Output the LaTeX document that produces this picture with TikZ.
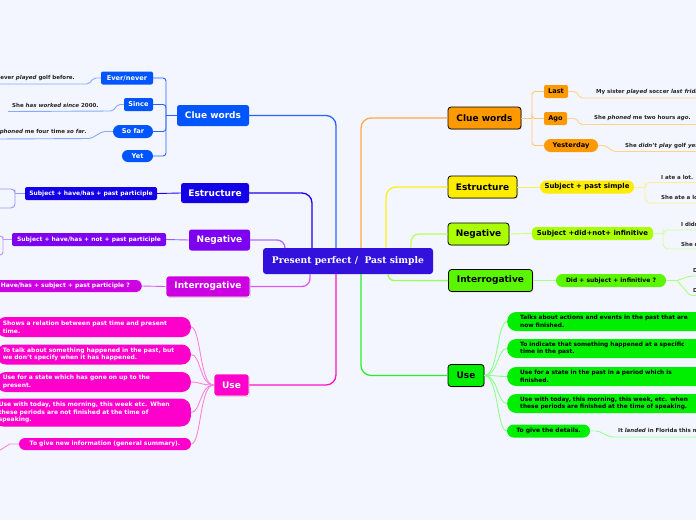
\documentclass[tikz,border=0pt]{standalone}
\usepackage{fontspec}
\setmainfont{DejaVu Sans}
\newfontfamily\serifb{DejaVu Serif}
\usetikzlibrary{shadows}
\definecolor{bg}{RGB}{243,246,254}
\definecolor{cen}{RGB}{51,17,221}
\definecolor{clueB}{RGB}{0,85,255}
\definecolor{estB}{RGB}{20,0,230}
\definecolor{negP}{RGB}{125,0,240}
\definecolor{intM}{RGB}{205,0,225}
\definecolor{useM}{RGB}{255,0,204}
\definecolor{orng}{RGB}{255,153,0}
\definecolor{yel}{RGB}{255,236,0}
\definecolor{ygr}{RGB}{170,255,0}
\definecolor{grn}{RGB}{90,245,0}
\definecolor{ugr}{RGB}{0,238,0}
\definecolor{lnClue}{RGB}{40,100,255}
\definecolor{lnEst}{RGB}{30,0,240}
\definecolor{lnNeg}{RGB}{175,110,255}
\definecolor{lnInt}{RGB}{220,90,240}
\definecolor{lnUse}{RGB}{255,20,200}
\definecolor{lnOr}{RGB}{255,170,70}
\definecolor{lnYe}{RGB}{255,240,20}
\definecolor{lnYg}{RGB}{190,255,90}
\definecolor{lnGr}{RGB}{150,255,90}
\definecolor{lnUg}{RGB}{40,240,40}
\tikzset{
 sz/.style 2 args={minimum width=#1pt,minimum height=#2pt},
 topL/.style={inner sep=0pt, rounded corners=2.5pt, text=white, font=\bfseries\fontsize{9}{10}\selectfont},
 topR/.style={inner sep=0pt, rounded corners=3pt, draw=black, line width=0.8pt, text=black, font=\bfseries\fontsize{9}{10}\selectfont, drop shadow={opacity=0.35,shadow xshift=0.8pt,shadow yshift=-0.8pt}},
 shadowW/.style={draw=white, line width=0.9pt, drop shadow={opacity=0.3,shadow xshift=0.8pt,shadow yshift=-0.8pt}},
 kidA/.style={inner sep=0pt, font=\bfseries\fontsize{6.6}{8}\selectfont},
 kidB/.style={inner sep=0pt, font=\bfseries\fontsize{6}{7}\selectfont},
 kidC/.style={inner sep=0pt, font=\bfseries\fontsize{6.9}{8}\selectfont},
 lpill/.style={font=\bfseries\fontsize{6}{7.6}\selectfont, fill=useM, text=white, align=left, inner xsep=6pt, inner ysep=1pt, rounded corners=9pt, anchor=east},
 rpill/.style={font=\bfseries\fontsize{5.85}{7.6}\selectfont, fill=ugr, text=black, align=left, inner xsep=13pt, inner ysep=1pt, rounded corners=9pt, anchor=west, text width=200pt, minimum height=19pt},
 ex/.style={inner sep=0pt, font=\bfseries\fontsize{5.5}{6.5}\selectfont, text=black!85},
 conn/.style={line width=1.3pt, rounded corners=10pt},
 sub/.style={line width=0.9pt},
}
\begin{document}
\begin{tikzpicture}[x=1pt,y=-1pt]
\useasboundingbox (0,0) rectangle (696,520);
\fill[bg] (0,0) rectangle (696,520);

% centre
\node[fill=cen, rounded corners=3pt, text=white, inner sep=0pt, sz={170}{26}, font=\serifb\bfseries\fontsize{9.2}{11}\selectfont] (c) at (348,261) {Present perfect /\ \ Past simple};

% ---------- left side ----------
\node[topL, fill=clueB, sz={72}{21}] (clueL) at (213,115.5) {Clue words};
\node[kidA, fill=clueB, text=white, rounded corners=2pt, sz={52}{13}] (ever) at (127,78) {Ever/never};
\node[kidA, fill=clueB, text=white, rounded corners=2pt, sz={29}{13}] (since) at (138.5,104.5) {Since};
\node[kidA, fill=clueB, text=white, rounded corners=6.5pt, sz={40}{13}] (sofar) at (133,131.5) {So far};
\node[kidA, fill=clueB, text=white, rounded corners=6pt, sz={31}{12}] (yet) at (137.5,156) {Yet};

\node[ex, anchor=east] (ex1) at (75,78) {never \textit{played} golf before.};
\node[ex, anchor=west] (ex2) at (12,105) {She \textit{has worked since} 2000.};
\node[ex, anchor=east] (ex3) at (87,132) {\textit{phoned} me four time \textit{so far}.};

\node[topL, fill=estB, sz={68}{20}] (estL) at (215,193) {Estructure};
\node[kidB, fill=estB, text=white, rounded corners=2pt, sz={132}{13}] (estC) at (91,193.5) {Subject + have/has + past participle};

\node[topL, fill=negP, sz={61}{21}] (negL) at (219.5,240) {Negative};
\node[kidB, fill=negP, text=white, rounded corners=2pt, sz={154}{13}] (negC) at (89,239.5) {Subject + have/has + not + past participle};

\node[topL, shadowW, fill=intM, sz={84}{21}] (intL) at (208,286.5) {Interrogative};
\node[kidB, fill=intM, text=white, anchor=east, inner xsep=12pt, minimum height=12pt, rounded corners=6pt] (intC) at (142,286) {Have/has + subject + past participle ?};

\node[topL, shadowW, fill=useM, sz={35}{22}] (useL) at (231.5,385) {Use};
\node[lpill, text width=182pt, minimum height=20pt] (p1) at (191,327) {Shows a relation between past time and present\\time.};
\node[lpill, text width=182pt, minimum height=20pt] (p2) at (191,354.5) {To talk about something happened in the past, but\\we don't specify when it has happened.};
\node[lpill, text width=182pt, minimum height=20pt] (p3) at (191,382) {Use for a state which has gone on up to the\\present.};
\node[lpill, text width=186pt, minimum height=28pt, rounded corners=10pt] (p4) at (191,412.5) {Use with today, this morning, this week etc. When\\these periods are not finished at the time of\\speaking.};
\node[kidB, fill=useM, text=white, rounded corners=6pt, sz={172}{12}] (p5) at (105,444) {To give new information (general summary).};

% ---------- right side ----------
\node[topR, fill=orng, sz={73}{22}] (clueR) at (484.5,118) {Clue words};
\node[kidA, fill=orng, rounded corners=2pt, sz={24}{13}] (last) at (556,91.5) {Last};
\node[kidA, fill=orng, rounded corners=2pt, sz={23}{13}] (ago) at (555.5,118.5) {Ago};
\node[kidA, fill=orng, rounded corners=6.5pt, sz={54}{13}] (yest) at (571,145.5) {Yesterday};
\node[ex, anchor=west] (ex4) at (596,92) {My sister \textit{played} soccer \textit{last friday}.};
\node[ex, anchor=west] (ex5) at (594,118) {She \textit{phoned} me two hours \textit{ago}.};
\node[ex, anchor=west] (ex6) at (625,145.5) {She \textit{didn't play} golf \textit{yesterday}.};

\node[topR, fill=yel, sz={69}{22}] (estR) at (482.5,187) {Estructure};
\node[kidC, fill=yel, rounded corners=6.5pt, sz={94}{13}] (sps) at (587,187) {Subject + past simple};
\node[ex, anchor=west] (ex7) at (661,177) {I ate a lot.};
\node[ex, anchor=west] (ex8) at (661,197) {She ate a lot.};

\node[topR, fill=ygr, sz={61}{22}] (negR) at (478.5,234) {Negative};
\node[kidC, fill=ygr, rounded corners=4pt, sz={121}{13}] (sdn) at (592.5,233.5) {Subject +did+not+ infinitive};
\node[ex, anchor=west] (ex9) at (681,224) {I didn't eat a lot.};
\node[ex, anchor=west] (ex10) at (681,244) {She didn't eat a lot.};

\node[topR, fill=grn, sz={84}{22}] (intR) at (490.5,280.5) {Interrogative};
\node[kidB, fill=grn, rounded corners=6.5pt, sz={110}{13}] (dsi) at (611,280.5) {Did + subject + infinitive ?};
\node[ex, anchor=west] (ex11) at (693,271) {Did you eat a lot?};
\node[ex, anchor=west] (ex12) at (693,290) {Did she eat a lot?};

\node[topR, fill=ugr, sz={36}{22}] (useR) at (466,375.5) {Use};
\node[rpill] (r1) at (507,321.5) {Talks about actions and events in the past that are\\now finished.};
\node[rpill] (r2) at (507,348.5) {To indicate that something happened at a specific\\time in the past.};
\node[rpill] (r3) at (507,376.5) {Use for a state in the past in a period which is\\finished.};
\node[rpill] (r4) at (507,403.5) {Use with today, this morning, this week, etc. when\\these periods are finished at the time of speaking.};
\node[kidB, fill=ugr, rounded corners=6.5pt, sz={83}{13}] (give) at (548.5,431) {To give the details.};
\node[ex, anchor=west] (ex13) at (618,431) {It \textit{landed} in Florida this morning.};

% ---------- free-end coordinates ----------
\coordinate (bL) at (166,115.5);
\coordinate (u1) at (-3,84);
\coordinate (u2) at (8,111.5);
\coordinate (u3) at (-3,139);
\coordinate (bLE) at (15,193.5);
\coordinate (uLE1) at (-3,189);
\coordinate (uLE2) at (-3,208);
\coordinate (bLN) at (3,239.5);
\coordinate (uLN1) at (-5,236);
\coordinate (uLN2) at (-5,255);
\coordinate (uP5) at (-3,452);
\coordinate (bR) at (532,118);
\coordinate (u4) at (700,98);
\coordinate (u5) at (700,124.5);
\coordinate (u6) at (700,151.5);
\coordinate (bE) at (645,187);
\coordinate (uE1) at (700,182.5);
\coordinate (uE2) at (700,203);
\coordinate (bN) at (663,233.5);
\coordinate (uN1) at (700,230);
\coordinate (uN2) at (700,249);
\coordinate (bI) at (677,280.5);
\coordinate (uI1) at (700,276);
\coordinate (uI2) at (700,295.5);
\coordinate (u13) at (700,437);

% ---------- centre connectors ----------
\draw[conn, lnClue] (clueL.east) -| ([xshift=-12pt]c.north);
\draw[conn, lnEst] (estL.east) -| ([xshift=-36pt]c.north);
\draw[conn, lnNeg, rounded corners=8pt] (negL.east) -| ([xshift=-63pt]c.north);
\draw[conn, lnInt, rounded corners=8pt] (intL.east) -| ([xshift=-38pt]c.south);
\draw[conn, lnUse] (useL.east) -| ([xshift=-12pt]c.south);
\draw[conn, lnOr] (clueR.west) -| ([xshift=13pt]c.north);
\draw[conn, lnYe] (estR.west) -| ([xshift=38pt]c.north);
\draw[conn, lnYg, rounded corners=8pt] (negR.west) -| ([xshift=63pt]c.north);
\draw[conn, lnGr, rounded corners=6pt] (intR.west) -| ([xshift=40pt]c.south);
\draw[conn, lnUg] (useR.west) -| ([xshift=13pt]c.south);

% ---------- left sub connectors ----------
\draw[sub, lnClue] (clueL.west) -- (bL);
\draw[sub, lnClue, rounded corners=3pt] (bL) |- (ever.east);
\draw[sub, lnClue, rounded corners=3pt] (bL) |- (since.east);
\draw[sub, lnClue, rounded corners=3pt] (bL) |- (sofar.east);
\draw[sub, lnClue, rounded corners=3pt] (bL) |- (yet.east);
\draw[sub, color={rgb,255:red,130;green,170;blue,255}, rounded corners=2pt] (ever.west) -- ++(-7,0) -- ++(-5,6) -- (u1);
\draw[sub, color={rgb,255:red,130;green,170;blue,255}, rounded corners=2pt] (since.west) -- ++(-6,0) -- ++(-5,6.5) -- (u2);
\draw[sub, color={rgb,255:red,130;green,170;blue,255}, rounded corners=2pt] (sofar.west) -- ++(-10,0) -- ++(-12,7) -- (u3);

\draw[sub, lnEst] (estL.west) -- (estC.east);
\draw[sub, color={rgb,255:red,150;green,150;blue,255}] (estC.west) -- (bLE);
\draw[sub, color={rgb,255:red,150;green,150;blue,255}, rounded corners=4pt] (uLE1) -| (bLE) |- (uLE2);

\draw[sub, color={rgb,255:red,160;green,90;blue,255}] (negL.west) -- (negC.east);
\draw[sub, color={rgb,255:red,190;green,150;blue,255}] (negC.west) -- (bLN);
\draw[sub, color={rgb,255:red,190;green,150;blue,255}, rounded corners=3pt] (uLN1) -| (bLN) |- (uLN2);

\draw[sub, lnInt] (intL.west) -- (intC.east);

\foreach \p in {p1,p2,p3,p4,p5}
  \draw[sub, color={rgb,255:red,255;green,130;blue,225}] (useL.west) .. controls +(-14,0) and +(10,0) .. (\p.east);
\draw[sub, color={rgb,255:red,255;green,130;blue,225}] (p5.west) -- ++(-9,0) -- (uP5);

% ---------- right sub connectors ----------
\draw[sub, color={rgb,255:red,255;green,200;blue,110}] (clueR.east) -- (bR);
\draw[sub, color={rgb,255:red,255;green,200;blue,110}, rounded corners=3pt] (bR) |- (last.west);
\draw[sub, color={rgb,255:red,255;green,200;blue,110}, rounded corners=3pt] (bR) |- (ago.west);
\draw[sub, color={rgb,255:red,255;green,200;blue,110}, rounded corners=3pt] (bR) |- (yest.west);
\draw[sub, color={rgb,255:red,255;green,210;blue,140}, rounded corners=2pt] (last.east) -- ++(8,0) -- ++(4,6.5) -- (u4);
\draw[sub, color={rgb,255:red,255;green,210;blue,140}, rounded corners=2pt] (ago.east) -- ++(9,0) -- ++(4,6) -- (u5);
\draw[sub, color={rgb,255:red,255;green,210;blue,140}, rounded corners=2pt] (yest.east) -- ++(7,0) -- ++(8,6) -- (u6);

\draw[sub, color={rgb,255:red,255;green,238;blue,100}] (estR.east) -- (sps.west);
\draw[sub, color={rgb,255:red,255;green,240;blue,150}] (sps.east) -- (bE);
\draw[sub, color={rgb,255:red,255;green,240;blue,150}, rounded corners=5pt] (uE1) -| (bE) |- (uE2);

\draw[sub, color={rgb,255:red,200;green,255;blue,120}] (negR.east) -- (sdn.west);
\draw[sub, color={rgb,255:red,210;green,255;blue,160}] (sdn.east) -- (bN);
\draw[sub, color={rgb,255:red,210;green,255;blue,160}, rounded corners=5pt] (uN1) -| (bN) |- (uN2);

\draw[sub, color={rgb,255:red,170;green,255;blue,130}] (intR.east) -- (dsi.west);
\draw[sub, color={rgb,255:red,170;green,255;blue,130}] (dsi.east) -- (bI);
\draw[sub, color={rgb,255:red,170;green,255;blue,130}, rounded corners=2pt] (bI) -- ++(13,-4.5) -- (uI1);
\draw[sub, color={rgb,255:red,170;green,255;blue,130}, rounded corners=2pt] (bI) -- ++(13,15) -- (uI2);

\foreach \r in {r1,r2,r3,r4,give}
  \draw[sub, color={rgb,255:red,140;green,255;blue,140}] (useR.east) .. controls +(14,0) and +(-10,0) .. (\r.west);
\draw[sub, color={rgb,255:red,150;green,255;blue,150}, rounded corners=2pt] (give.east) -- ++(8,0) -- ++(12,6) -- (u13);
\end{tikzpicture}
\end{document}
